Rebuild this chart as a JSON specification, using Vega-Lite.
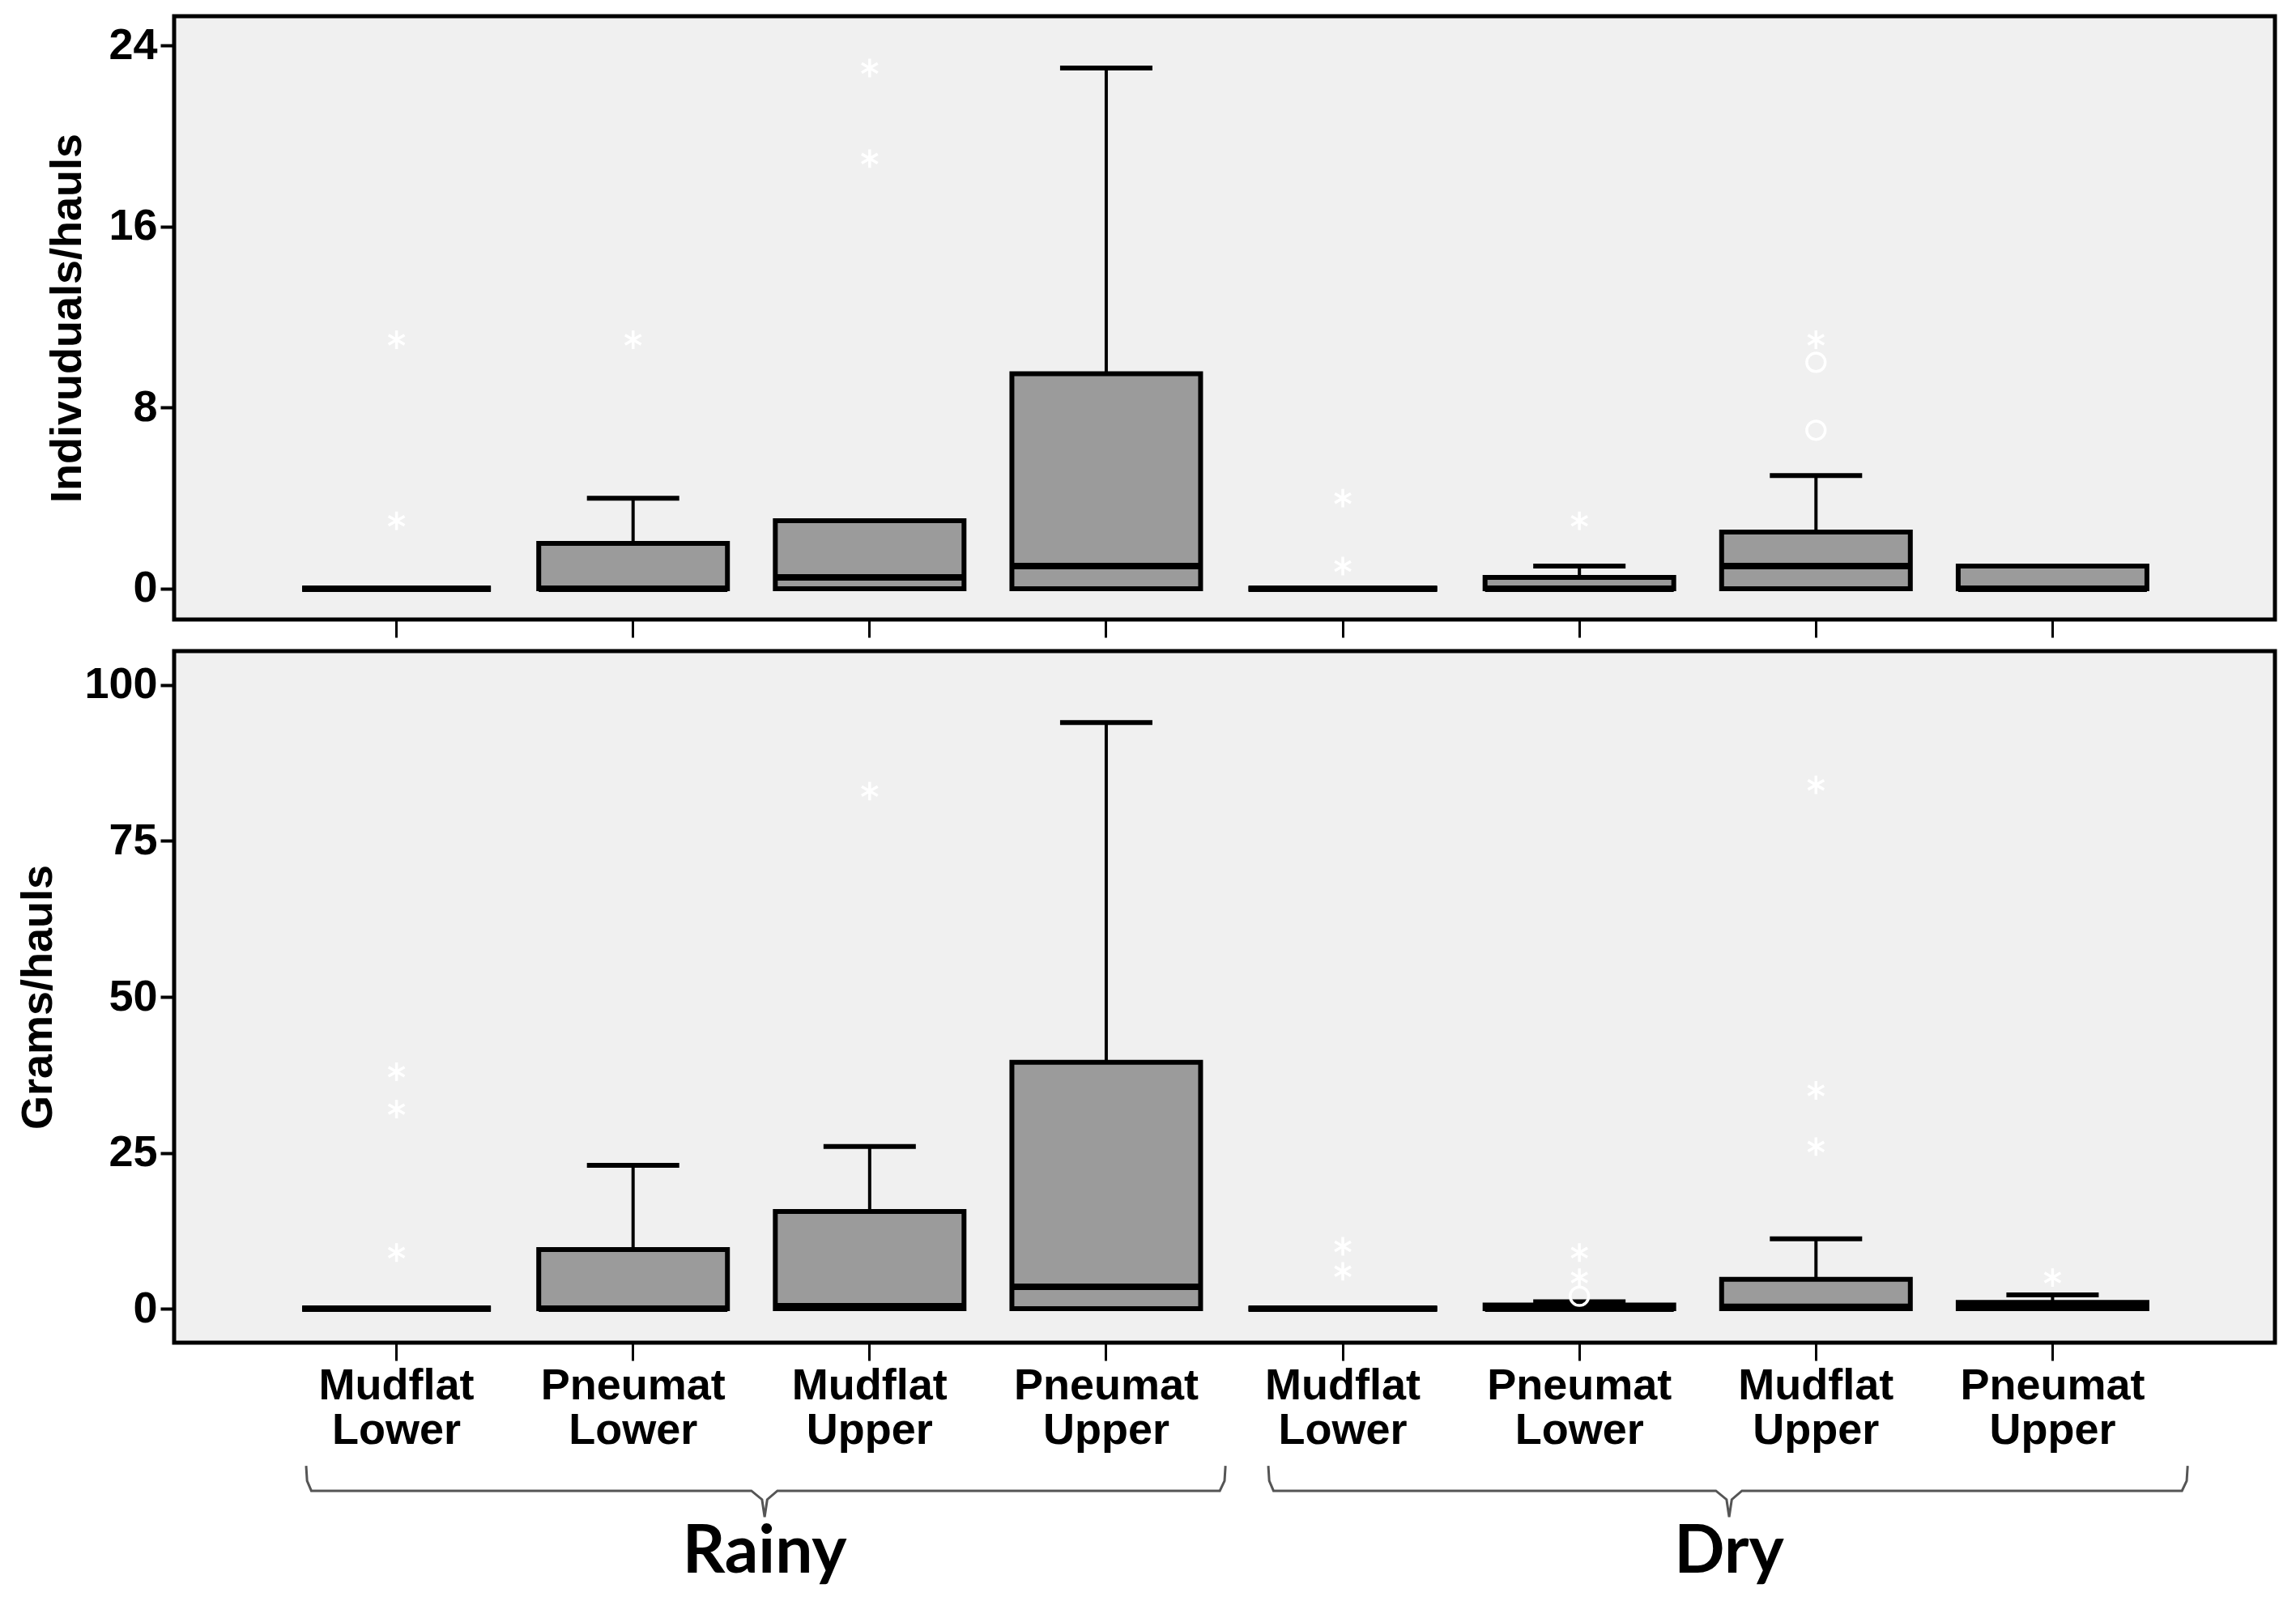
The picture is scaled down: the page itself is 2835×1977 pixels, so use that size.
{
  "$schema": "https://vega.github.io/schema/vega-lite/v6.json",
  "background": "white",
  "padding": {"left": 18, "top": 17, "right": 0, "bottom": 0},
  "spacing": 10,
  "datasets": {
    "boxes": [
      {"panel": "ind", "cat": "Rainy|Mudflat|Lower", "q1": 0, "median": 0, "q3": 0, "upper": 0},
      {"panel": "ind", "cat": "Rainy|Pneumat|Lower", "q1": 0, "median": 0, "q3": 2, "upper": 4},
      {"panel": "ind", "cat": "Rainy|Mudflat|Upper", "q1": 0, "median": 0.5, "q3": 3, "upper": 3},
      {"panel": "ind", "cat": "Rainy|Pneumat|Upper", "q1": 0, "median": 1, "q3": 9.5, "upper": 23},
      {"panel": "ind", "cat": "Dry|Mudflat|Lower", "q1": 0, "median": 0, "q3": 0, "upper": 0},
      {"panel": "ind", "cat": "Dry|Pneumat|Lower", "q1": 0, "median": 0, "q3": 0.5, "upper": 1},
      {"panel": "ind", "cat": "Dry|Mudflat|Upper", "q1": 0, "median": 1, "q3": 2.5, "upper": 5},
      {"panel": "ind", "cat": "Dry|Pneumat|Upper", "q1": 0, "median": 0, "q3": 1, "upper": 1},
      {"panel": "grams", "cat": "Rainy|Mudflat|Lower", "q1": 0, "median": 0, "q3": 0, "upper": 0},
      {"panel": "grams", "cat": "Rainy|Pneumat|Lower", "q1": 0, "median": 0, "q3": 9.5, "upper": 23},
      {"panel": "grams", "cat": "Rainy|Mudflat|Upper", "q1": 0, "median": 0.4, "q3": 15.6, "upper": 26},
      {"panel": "grams", "cat": "Rainy|Pneumat|Upper", "q1": 0, "median": 3.5, "q3": 39.5, "upper": 94},
      {"panel": "grams", "cat": "Dry|Mudflat|Lower", "q1": 0, "median": 0, "q3": 0, "upper": 0},
      {"panel": "grams", "cat": "Dry|Pneumat|Lower", "q1": 0, "median": 0, "q3": 0.6, "upper": 1.1},
      {"panel": "grams", "cat": "Dry|Mudflat|Upper", "q1": 0, "median": 0.3, "q3": 4.7, "upper": 11.2},
      {"panel": "grams", "cat": "Dry|Pneumat|Upper", "q1": 0, "median": 0.5, "q3": 1, "upper": 2.2}
    ],
    "outliers": [
      {"panel": "ind", "cat": "Rainy|Mudflat|Lower", "value": 11, "kind": "star"},
      {"panel": "ind", "cat": "Rainy|Mudflat|Lower", "value": 3, "kind": "star"},
      {"panel": "ind", "cat": "Rainy|Pneumat|Lower", "value": 11, "kind": "star"},
      {"panel": "ind", "cat": "Rainy|Mudflat|Upper", "value": 23, "kind": "star"},
      {"panel": "ind", "cat": "Rainy|Mudflat|Upper", "value": 19, "kind": "star"},
      {"panel": "ind", "cat": "Dry|Mudflat|Lower", "value": 4, "kind": "star"},
      {"panel": "ind", "cat": "Dry|Mudflat|Lower", "value": 1, "kind": "star"},
      {"panel": "ind", "cat": "Dry|Pneumat|Lower", "value": 3, "kind": "star"},
      {"panel": "ind", "cat": "Dry|Mudflat|Upper", "value": 7, "kind": "circle"},
      {"panel": "ind", "cat": "Dry|Mudflat|Upper", "value": 10, "kind": "circle"},
      {"panel": "ind", "cat": "Dry|Mudflat|Upper", "value": 11, "kind": "star"},
      {"panel": "grams", "cat": "Rainy|Mudflat|Lower", "value": 38, "kind": "star"},
      {"panel": "grams", "cat": "Rainy|Mudflat|Lower", "value": 32, "kind": "star"},
      {"panel": "grams", "cat": "Rainy|Mudflat|Lower", "value": 9, "kind": "star"},
      {"panel": "grams", "cat": "Rainy|Mudflat|Upper", "value": 83, "kind": "star"},
      {"panel": "grams", "cat": "Dry|Mudflat|Lower", "value": 10, "kind": "star"},
      {"panel": "grams", "cat": "Dry|Mudflat|Lower", "value": 6, "kind": "star"},
      {"panel": "grams", "cat": "Dry|Pneumat|Lower", "value": 9, "kind": "star"},
      {"panel": "grams", "cat": "Dry|Pneumat|Lower", "value": 5, "kind": "star"},
      {"panel": "grams", "cat": "Dry|Pneumat|Lower", "value": 2, "kind": "circle"},
      {"panel": "grams", "cat": "Dry|Mudflat|Upper", "value": 84, "kind": "star"},
      {"panel": "grams", "cat": "Dry|Mudflat|Upper", "value": 35, "kind": "star"},
      {"panel": "grams", "cat": "Dry|Mudflat|Upper", "value": 26, "kind": "star"},
      {"panel": "grams", "cat": "Dry|Pneumat|Upper", "value": 5, "kind": "star"}
    ],
    "brackets": [
      {"season": "Rainy", "ord": 1, "bx": 0.618, "by": -25.2},
      {"season": "Rainy", "ord": 2, "bx": 0.622, "by": -27.6},
      {"season": "Rainy", "ord": 3, "bx": 0.64, "by": -29.2},
      {"season": "Rainy", "ord": 4, "bx": 2.50, "by": -29.2},
      {"season": "Rainy", "ord": 5, "bx": 2.545, "by": -30.6},
      {"season": "Rainy", "ord": 6, "bx": 2.556, "by": -33.4},
      {"season": "Rainy", "ord": 7, "bx": 2.567, "by": -30.6},
      {"season": "Rainy", "ord": 8, "bx": 2.61, "by": -29.2},
      {"season": "Rainy", "ord": 9, "bx": 4.48, "by": -29.2},
      {"season": "Rainy", "ord": 10, "bx": 4.50, "by": -27.6},
      {"season": "Rainy", "ord": 11, "bx": 4.504, "by": -25.2},
      {"season": "Dry", "ord": 1, "bx": 4.685, "by": -25.2},
      {"season": "Dry", "ord": 2, "bx": 4.689, "by": -27.6},
      {"season": "Dry", "ord": 3, "bx": 4.707, "by": -29.2},
      {"season": "Dry", "ord": 4, "bx": 6.577, "by": -29.2},
      {"season": "Dry", "ord": 5, "bx": 6.622, "by": -30.6},
      {"season": "Dry", "ord": 6, "bx": 6.633, "by": -33.4},
      {"season": "Dry", "ord": 7, "bx": 6.644, "by": -30.6},
      {"season": "Dry", "ord": 8, "bx": 6.687, "by": -29.2},
      {"season": "Dry", "ord": 9, "bx": 8.547, "by": -29.2},
      {"season": "Dry", "ord": 10, "bx": 8.567, "by": -27.6},
      {"season": "Dry", "ord": 11, "bx": 8.571, "by": -25.2}
    ],
    "seasons": [
      {"season": "Rainy", "bx": 2.556, "by": -42.3},
      {"season": "Dry", "bx": 6.633, "by": -42.3}
    ]
  },
  "vconcat": [
    {
      "width": 2594,
      "height": 745,
      "layer": [
        {
          "data": {"name": "boxes"},
          "transform": [{"filter": "datum.panel == 'ind' && datum.upper > datum.q3"}],
          "mark": {"type": "rule", "color": "black", "strokeWidth": 4},
          "encoding": {
            "x": {"field": "cat", "type": "nominal", "sort": ["Rainy|Mudflat|Lower", "Rainy|Pneumat|Lower", "Rainy|Mudflat|Upper", "Rainy|Pneumat|Upper", "Dry|Mudflat|Lower", "Dry|Pneumat|Lower", "Dry|Mudflat|Upper", "Dry|Pneumat|Upper"], "scale": {"paddingInner": 0, "paddingOuter": 0.44}, "title": null, "axis": {"labels": false, "ticks": true, "tickSize": 22, "tickWidth": 3, "tickColor": "black", "domain": false}},
            "y": {"field": "q3", "type": "quantitative", "scale": {"domain": [-1.36, 25.29], "nice": false, "zero": false}, "title": "Indivuduals/hauls", "axis": {"values": [0, 8, 16, 24], "titlePadding": 23, "titleFontSize": 54, "labelFontSize": 54, "tickSize": 17, "tickWidth": 4, "labelPadding": 4}},
            "y2": {"field": "upper"}
          }
        },
        {
          "data": {"name": "boxes"},
          "transform": [{"filter": "datum.panel == 'ind' && datum.upper > datum.q3"}],
          "mark": {"type": "tick", "color": "black", "opacity": 1, "size": 114, "thickness": 6, "orient": "horizontal"},
          "encoding": {
            "x": {"field": "cat", "type": "nominal", "sort": ["Rainy|Mudflat|Lower", "Rainy|Pneumat|Lower", "Rainy|Mudflat|Upper", "Rainy|Pneumat|Upper", "Dry|Mudflat|Lower", "Dry|Pneumat|Lower", "Dry|Mudflat|Upper", "Dry|Pneumat|Upper"]},
            "y": {"field": "upper", "type": "quantitative"}
          }
        },
        {
          "data": {"name": "boxes"},
          "transform": [{"filter": "datum.panel == 'ind'"}],
          "mark": {"type": "bar", "size": 233, "fill": "#9b9b9b", "stroke": "black", "strokeWidth": 6, "opacity": 1},
          "encoding": {
            "x": {"field": "cat", "type": "nominal", "sort": ["Rainy|Mudflat|Lower", "Rainy|Pneumat|Lower", "Rainy|Mudflat|Upper", "Rainy|Pneumat|Upper", "Dry|Mudflat|Lower", "Dry|Pneumat|Lower", "Dry|Mudflat|Upper", "Dry|Pneumat|Upper"]},
            "y": {"field": "q1", "type": "quantitative"},
            "y2": {"field": "q3"}
          }
        },
        {
          "data": {"name": "boxes"},
          "transform": [{"filter": "datum.panel == 'ind'"}],
          "mark": {"type": "tick", "color": "black", "opacity": 1, "size": 233, "thickness": 8, "orient": "horizontal"},
          "encoding": {
            "x": {"field": "cat", "type": "nominal", "sort": ["Rainy|Mudflat|Lower", "Rainy|Pneumat|Lower", "Rainy|Mudflat|Upper", "Rainy|Pneumat|Upper", "Dry|Mudflat|Lower", "Dry|Pneumat|Lower", "Dry|Mudflat|Upper", "Dry|Pneumat|Upper"]},
            "y": {"field": "median", "type": "quantitative"}
          }
        },
        {
          "data": {"name": "outliers"},
          "transform": [{"filter": "datum.panel == 'ind'"}],
          "mark": {"type": "point", "filled": false, "color": "white", "strokeWidth": 3.5, "size": 520, "opacity": 1},
          "encoding": {
            "x": {"field": "cat", "type": "nominal", "sort": ["Rainy|Mudflat|Lower", "Rainy|Pneumat|Lower", "Rainy|Mudflat|Upper", "Rainy|Pneumat|Upper", "Dry|Mudflat|Lower", "Dry|Pneumat|Lower", "Dry|Mudflat|Upper", "Dry|Pneumat|Upper"]},
            "y": {"field": "value", "type": "quantitative"},
            "shape": {"field": "kind", "type": "nominal", "scale": {"domain": ["star", "circle"], "range": ["M0,-1L0,1M-0.866,-0.5L0.866,0.5M-0.866,0.5L0.866,-0.5", "circle"]}, "legend": null}
          }
        }
      ]
    },
    {
      "width": 2594,
      "height": 854,
      "resolve": {"scale": {"x": "independent", "y": "independent", "shape": "independent"}, "axis": {"x": "independent", "y": "independent"}},
      "layer": [
        {
          "layer": [
            {
              "data": {"name": "boxes"},
              "transform": [{"filter": "datum.panel == 'grams' && datum.upper > datum.q3"}],
              "mark": {"type": "rule", "color": "black", "strokeWidth": 4},
              "encoding": {
                "x": {"field": "cat", "type": "nominal", "sort": ["Rainy|Mudflat|Lower", "Rainy|Pneumat|Lower", "Rainy|Mudflat|Upper", "Rainy|Pneumat|Upper", "Dry|Mudflat|Lower", "Dry|Pneumat|Lower", "Dry|Mudflat|Upper", "Dry|Pneumat|Upper"], "scale": {"paddingInner": 0, "paddingOuter": 0.44}, "title": null, "axis": {"labels": true, "labelExpr": "slice(split(datum.label, '|'), 1)", "labelFontSize": 54, "labelLineHeight": 55, "labelLimit": 0, "labelAngle": 0, "labelPadding": 4, "ticks": true, "tickSize": 22, "tickWidth": 3, "tickColor": "black", "domain": false}},
                "y": {"field": "q3", "type": "quantitative", "scale": {"domain": [-5.45, 105.45], "nice": false, "zero": false}, "title": "Grams/hauls", "axis": {"values": [0, 25, 50, 75, 100], "titlePadding": 29, "titleFontSize": 54, "labelFontSize": 54, "tickSize": 17, "tickWidth": 4, "labelPadding": 4}},
                "y2": {"field": "upper"}
              }
            },
            {
              "data": {"name": "boxes"},
              "transform": [{"filter": "datum.panel == 'grams' && datum.upper > datum.q3"}],
              "mark": {"type": "tick", "color": "black", "opacity": 1, "size": 114, "thickness": 6, "orient": "horizontal"},
              "encoding": {
                "x": {"field": "cat", "type": "nominal", "sort": ["Rainy|Mudflat|Lower", "Rainy|Pneumat|Lower", "Rainy|Mudflat|Upper", "Rainy|Pneumat|Upper", "Dry|Mudflat|Lower", "Dry|Pneumat|Lower", "Dry|Mudflat|Upper", "Dry|Pneumat|Upper"]},
                "y": {"field": "upper", "type": "quantitative"}
              }
            },
            {
              "data": {"name": "boxes"},
              "transform": [{"filter": "datum.panel == 'grams'"}],
              "mark": {"type": "bar", "size": 233, "fill": "#9b9b9b", "stroke": "black", "strokeWidth": 6, "opacity": 1},
              "encoding": {
                "x": {"field": "cat", "type": "nominal", "sort": ["Rainy|Mudflat|Lower", "Rainy|Pneumat|Lower", "Rainy|Mudflat|Upper", "Rainy|Pneumat|Upper", "Dry|Mudflat|Lower", "Dry|Pneumat|Lower", "Dry|Mudflat|Upper", "Dry|Pneumat|Upper"]},
                "y": {"field": "q1", "type": "quantitative"},
                "y2": {"field": "q3"}
              }
            },
            {
              "data": {"name": "boxes"},
              "transform": [{"filter": "datum.panel == 'grams'"}],
              "mark": {"type": "tick", "color": "black", "opacity": 1, "size": 233, "thickness": 8, "orient": "horizontal"},
              "encoding": {
                "x": {"field": "cat", "type": "nominal", "sort": ["Rainy|Mudflat|Lower", "Rainy|Pneumat|Lower", "Rainy|Mudflat|Upper", "Rainy|Pneumat|Upper", "Dry|Mudflat|Lower", "Dry|Pneumat|Lower", "Dry|Mudflat|Upper", "Dry|Pneumat|Upper"]},
                "y": {"field": "median", "type": "quantitative"}
              }
            },
            {
              "data": {"name": "outliers"},
              "transform": [{"filter": "datum.panel == 'grams'"}],
              "mark": {"type": "point", "filled": false, "color": "white", "strokeWidth": 3.5, "size": 520, "opacity": 1},
              "encoding": {
                "x": {"field": "cat", "type": "nominal", "sort": ["Rainy|Mudflat|Lower", "Rainy|Pneumat|Lower", "Rainy|Mudflat|Upper", "Rainy|Pneumat|Upper", "Dry|Mudflat|Lower", "Dry|Pneumat|Lower", "Dry|Mudflat|Upper", "Dry|Pneumat|Upper"]},
                "y": {"field": "value", "type": "quantitative"},
                "shape": {"field": "kind", "type": "nominal", "scale": {"domain": ["star", "circle"], "range": ["M0,-1L0,1M-0.866,-0.5L0.866,0.5M-0.866,0.5L0.866,-0.5", "circle"]}, "legend": null}
              }
            }
          ]
        },
        {
          "layer": [
            {
              "data": {"name": "brackets"},
              "mark": {"type": "line", "color": "#555555", "strokeWidth": 3, "clip": false},
              "encoding": {
                "x": {"field": "bx", "type": "quantitative", "scale": {"domain": [0.06, 8.94], "nice": false, "zero": false}, "axis": null},
                "y": {"field": "by", "type": "quantitative", "scale": {"domain": [-5.45, 105.45], "nice": false, "zero": false}, "axis": null},
                "detail": {"field": "season"},
                "order": {"field": "ord", "type": "quantitative"}
              }
            },
            {
              "data": {"name": "seasons"},
              "mark": {"type": "text", "font": "Lato", "fontWeight": "bold", "fontSize": 82, "align": "center", "baseline": "alphabetic", "color": "black"},
              "encoding": {
                "x": {"field": "bx", "type": "quantitative"},
                "y": {"field": "by", "type": "quantitative"},
                "text": {"field": "season"}
              }
            }
          ]
        }
      ]
    }
  ],
  "config": {
    "font": "Liberation Sans",
    "view": {"stroke": "black", "strokeWidth": 5, "fill": "#f0f0f0"},
    "axis": {"labelFont": "Liberation Sans", "titleFont": "Liberation Sans", "labelFontWeight": "bold", "titleFontWeight": "bold", "labelColor": "black", "titleColor": "black", "tickColor": "black", "grid": false, "domain": false}
  }
}
